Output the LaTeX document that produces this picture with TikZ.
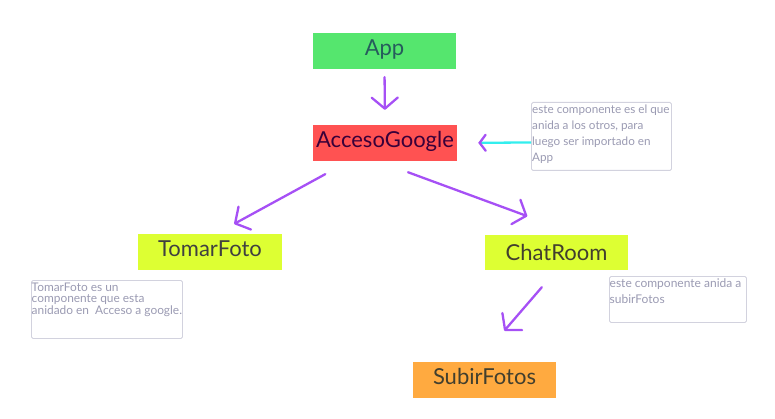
\documentclass[tikz,border=0pt]{standalone}
\usepackage{fontspec}
\setmainfont{Lato}
\usetikzlibrary{arrows.meta}
\definecolor{cgreen}{HTML}{55E66E}
\definecolor{cred}{HTML}{FF5252}
\definecolor{cyel}{HTML}{DDFF33}
\definecolor{corange}{HTML}{FFAA40}
\definecolor{cpurple}{HTML}{A650F5}
\definecolor{ccyan}{HTML}{33EEEE}
\definecolor{notetext}{HTML}{9A9AB2}
\definecolor{noteline}{HTML}{D2D2DE}
\tikzset{
  comp/.style={minimum width=143pt, minimum height=36pt, inner sep=0pt, font=\fontsize{22}{24}\selectfont},
  raised/.style={text height=16pt, text depth=7pt},
  notebox/.style={draw=noteline, line width=0.9pt, rounded corners=1.5pt, inner sep=0pt, anchor=north west},
  notetxt/.style={anchor=north west, inner sep=0pt, align=left, text=notetext, font=\fontsize{11.7}{16}\selectfont},
  arr/.style={draw=cpurple, line width=2.3pt, line cap=round, line join=round, -{Straight Barb[length=11pt,width=26pt,line cap=round,line join=round]}},
}
\begin{document}
\begin{tikzpicture}[x=1pt,y=-1pt]
\useasboundingbox (0,0) rectangle (775,419);
\node[comp, raised, fill=cgreen, text=black!40!teal!70!gray] (app) at (384.5,51) {App};
\node[comp, raised, fill=cred, minimum width=144pt, text=black!55!violet] (acc) at (385,143) {AccesoGoogle};
\node[comp, raised, fill=cyel, minimum width=144pt, text=black!75] (tomar) at (210,252) {TomarFoto};
\node[comp, fill=cyel, minimum height=35pt, text=black!70!olive] (chat) at (556.5,252.5) {ChatRoom};
\node[comp, raised, fill=corange, text=black!70!olive] (subir) at (484.5,380) {SubirFotos};

\node[notebox, minimum width=140pt, minimum height=68pt] (n1) at (531,102) {};
\node[notetxt] (n1t) at ([xshift=1pt,yshift=-3pt]n1.north west) {este componente es el que\\anida a los otros, para\\luego ser importado en\\App};

\node[notebox, minimum width=151pt, minimum height=58pt] (n2) at (31,280) {};
\node[notetxt, font=\fontsize{11.9}{10.5}\selectfont] (n2t) at ([xshift=0.5pt,yshift=-3pt]n2.north west) {TomarFoto es un\\componente que esta\\anidado en\ \ Acceso a google.};

\node[notebox, minimum width=137pt, minimum height=46pt] (n3) at (609,276) {};
\node[notetxt, font=\fontsize{12}{16.5}\selectfont] (n3t) at ([xshift=0.5pt,yshift=-2pt]n3.north west) {este componente anida a\\subirFotos};

\draw[arr, shorten <=8pt, shorten >=15pt] (app.south) -- (acc.north);
\draw[arr, shorten <=27pt, shorten >=20.6pt] ([xshift=-36pt]acc.south) -- ([xshift=6pt]tomar.north);
\draw[arr, shorten <=32pt, shorten >=54pt] ([xshift=-7pt]acc.south) -- ([xshift=21.5pt]chat.north);
\draw[arr, shorten <=22.5pt, shorten >=41pt] (chat.south) -- ([xshift=-7pt]subir.north);
\draw[draw=ccyan, line width=2.3pt, -{Straight Barb[length=6pt,width=16pt,color=cpurple,line cap=round]}, shorten >=21pt] ([yshift=-6pt]n1.west) -- (acc.east);
\end{tikzpicture}
\end{document}
